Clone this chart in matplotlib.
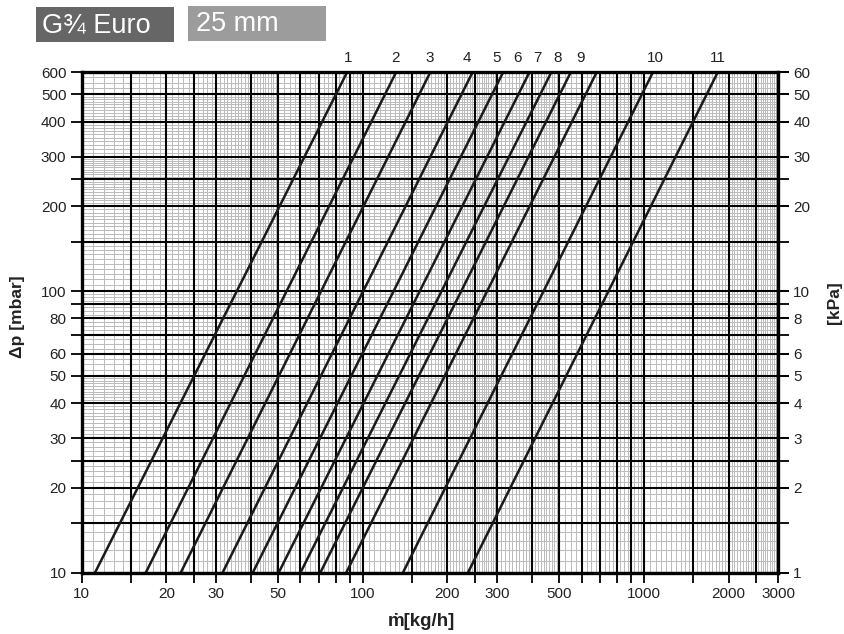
import matplotlib
matplotlib.use("Agg")
import matplotlib.pyplot as plt
from matplotlib.patches import Rectangle
from matplotlib.ticker import FixedLocator, FixedFormatter
import numpy as np

plt.rcParams['font.family'] = ['Liberation Sans', 'DejaVu Sans']

# ---- data ----
curve_names = ["1", "2", "3", "4", "5", "6", "7", "8", "9", "10", "11"]
# flow [kg/h] where each curve meets 10 mbar (bottom) and 600 mbar (top)
flow_at_10 = [11.15, 16.9, 22.5, 31.7, 40.6, 50.2, 60.0, 70.6, 87.3, 138.9, 236.6]
flow_at_600 = [88.0, 131.5, 174.0, 246.0, 316.0, 392.0, 469.0, 550.0, 680.0, 1078.0, 1833.0]
dp_low, dp_high = 10, 600
label_flow = [88.9, 130.8, 172.9, 234.3, 300.0, 356.0, 418.0, 494.0, 597.0, 1096.0, 1838.0]

x_major = [10, 15, 20, 25, 30, 40, 50, 60, 70, 80, 90, 100, 150, 200, 250, 300, 400, 500,
           600, 700, 800, 900, 1000, 1500, 2000, 2500, 3000]
x_labels = [10, 20, 30, 50, 100, 200, 300, 500, 1000, 2000, 3000]
y_major = [10, 15, 20, 25, 30, 40, 50, 60, 70, 80, 90, 100, 150, 200, 250, 300, 400, 500, 600]
y_labels = [10, 20, 30, 40, 50, 60, 80, 100, 200, 300, 400, 500, 600]
kpa_labels = [1, 2, 3, 4, 5, 6, 8, 10, 20, 30, 40, 50, 60]

# minor grid ranges: (start, stop, step)
x_minor_ranges = [(10, 30, 1), (30, 50, 1), (50, 100, 2.5), (100, 300, 5), (300, 500, 10),
                  (500, 1000, 25), (1000, 2000, 50), (2000, 3000, 50)]
y_minor_ranges = [(10, 30, 1), (30, 50, 1), (50, 100, 2.5), (100, 300, 5), (300, 500, 10),
                  (500, 600, 25)]


def minor_vals(ranges, majors):
    out = []
    for a, b, s in ranges:
        out.extend(np.arange(a, b + s * 0.01, s).tolist())
    vals = sorted(set(round(v, 4) for v in out))
    return [v for v in vals if v not in majors]


W, H = 845, 634
fig = plt.figure(figsize=(W / 100, H / 100), dpi=100)
ax = fig.add_axes([81.7 / W, 1 - 572.7 / H, (778 - 81.7) / W, (572.7 - 72) / H])
ax.set_xscale('log')
ax.set_yscale('log')
ax.set_xlim(10, 3000)
ax.set_ylim(dp_low, dp_high)

# grid drawn by hand so the black lines sit on top of the grey ones
xm = minor_vals(x_minor_ranges, x_major)
ym = minor_vals(y_minor_ranges, y_major)
ax.vlines(xm, dp_low, dp_high, color='#bcbcbc', linewidth=0.72, zorder=0.5, antialiased=False)
ax.hlines(ym, 10, 3000, color='#bcbcbc', linewidth=0.72, zorder=0.5, antialiased=False)
ax.vlines(x_major, dp_low, dp_high, color='black', linewidth=1.5, zorder=1)
ax.hlines(y_major, 10, 3000, color='black', linewidth=1.5, zorder=1)

# ticks
ax.xaxis.set_major_locator(FixedLocator(x_major))
ax.xaxis.set_major_formatter(FixedFormatter([str(v) if v in x_labels else "" for v in x_major]))
ax.yaxis.set_major_locator(FixedLocator(y_major))
ax.yaxis.set_major_formatter(FixedFormatter([str(v) if v in y_labels else "" for v in y_major]))
ax.xaxis.set_minor_locator(FixedLocator([]))
ax.yaxis.set_minor_locator(FixedLocator([]))
ax.tick_params(which='major', length=7, width=1.3, color='black', labelsize=11,
               labelcolor='#222222', pad=3)
ax.tick_params(axis='y', which='major', right=True, length=8)
for sp in ax.spines.values():
    sp.set_linewidth(2.4)
    sp.set_color('black')
    sp.set_zorder(6)

# right axis (kPa)
sec = ax.secondary_yaxis('right', functions=(lambda y: y / 10.0, lambda y: y * 10.0))
sec.set_yscale('log')
sec.yaxis.set_major_locator(FixedLocator(kpa_labels))
sec.yaxis.set_major_formatter(FixedFormatter([str(v) for v in kpa_labels]))
sec.yaxis.set_minor_locator(FixedLocator([]))
sec.tick_params(which='major', length=8, width=1.3, labelsize=11, labelcolor='#222222', pad=3)
sec.spines['right'].set_visible(False)

# curves
for lo, hi, name, lx in zip(flow_at_10, flow_at_600, curve_names, label_flow):
    ax.plot([lo, hi], [dp_low, dp_high], color='#1a1a1a', linewidth=1.8, solid_capstyle='butt',
            zorder=5)
    ax.annotate(name, xy=(lx, dp_high), xytext=(0, 5), textcoords='offset points',
                ha='center', va='bottom', fontsize=11, color='#222222', annotation_clip=False)

# axis labels
fig.text(421.7 / W, 1 - 622 / H, "ṁ[kg/h]", ha='center', va='center', fontsize=13.5,
         fontweight='bold', color='#222222')
fig.text(18 / W, 1 - 317 / H, "Δp [mbar]", ha='center', va='center', rotation=90,
         fontsize=12.5, fontweight='bold', color='#222222')
fig.text(835 / W, 1 - 303 / H, "[kPa]", ha='center', va='center', rotation=90,
         fontsize=12.5, fontweight='bold', color='#222222')

# header boxes
fig.add_artist(Rectangle((36 / W, 1 - 42 / H), 138 / W, 35 / H, transform=fig.transFigure,
                         facecolor='#666666', edgecolor='none'))
fig.add_artist(Rectangle((188 / W, 1 - 41 / H), 138 / W, 35 / H, transform=fig.transFigure,
                         facecolor='#9c9c9c', edgecolor='none'))
fig.text(42 / W, 1 - 25 / H, "G¾ Euro", ha='left', va='center', fontsize=19.5, color='white')
fig.text(196 / W, 1 - 24 / H, "25 mm", ha='left', va='center', fontsize=19.5, color='white')

fig.savefig("out.png", dpi=100)
